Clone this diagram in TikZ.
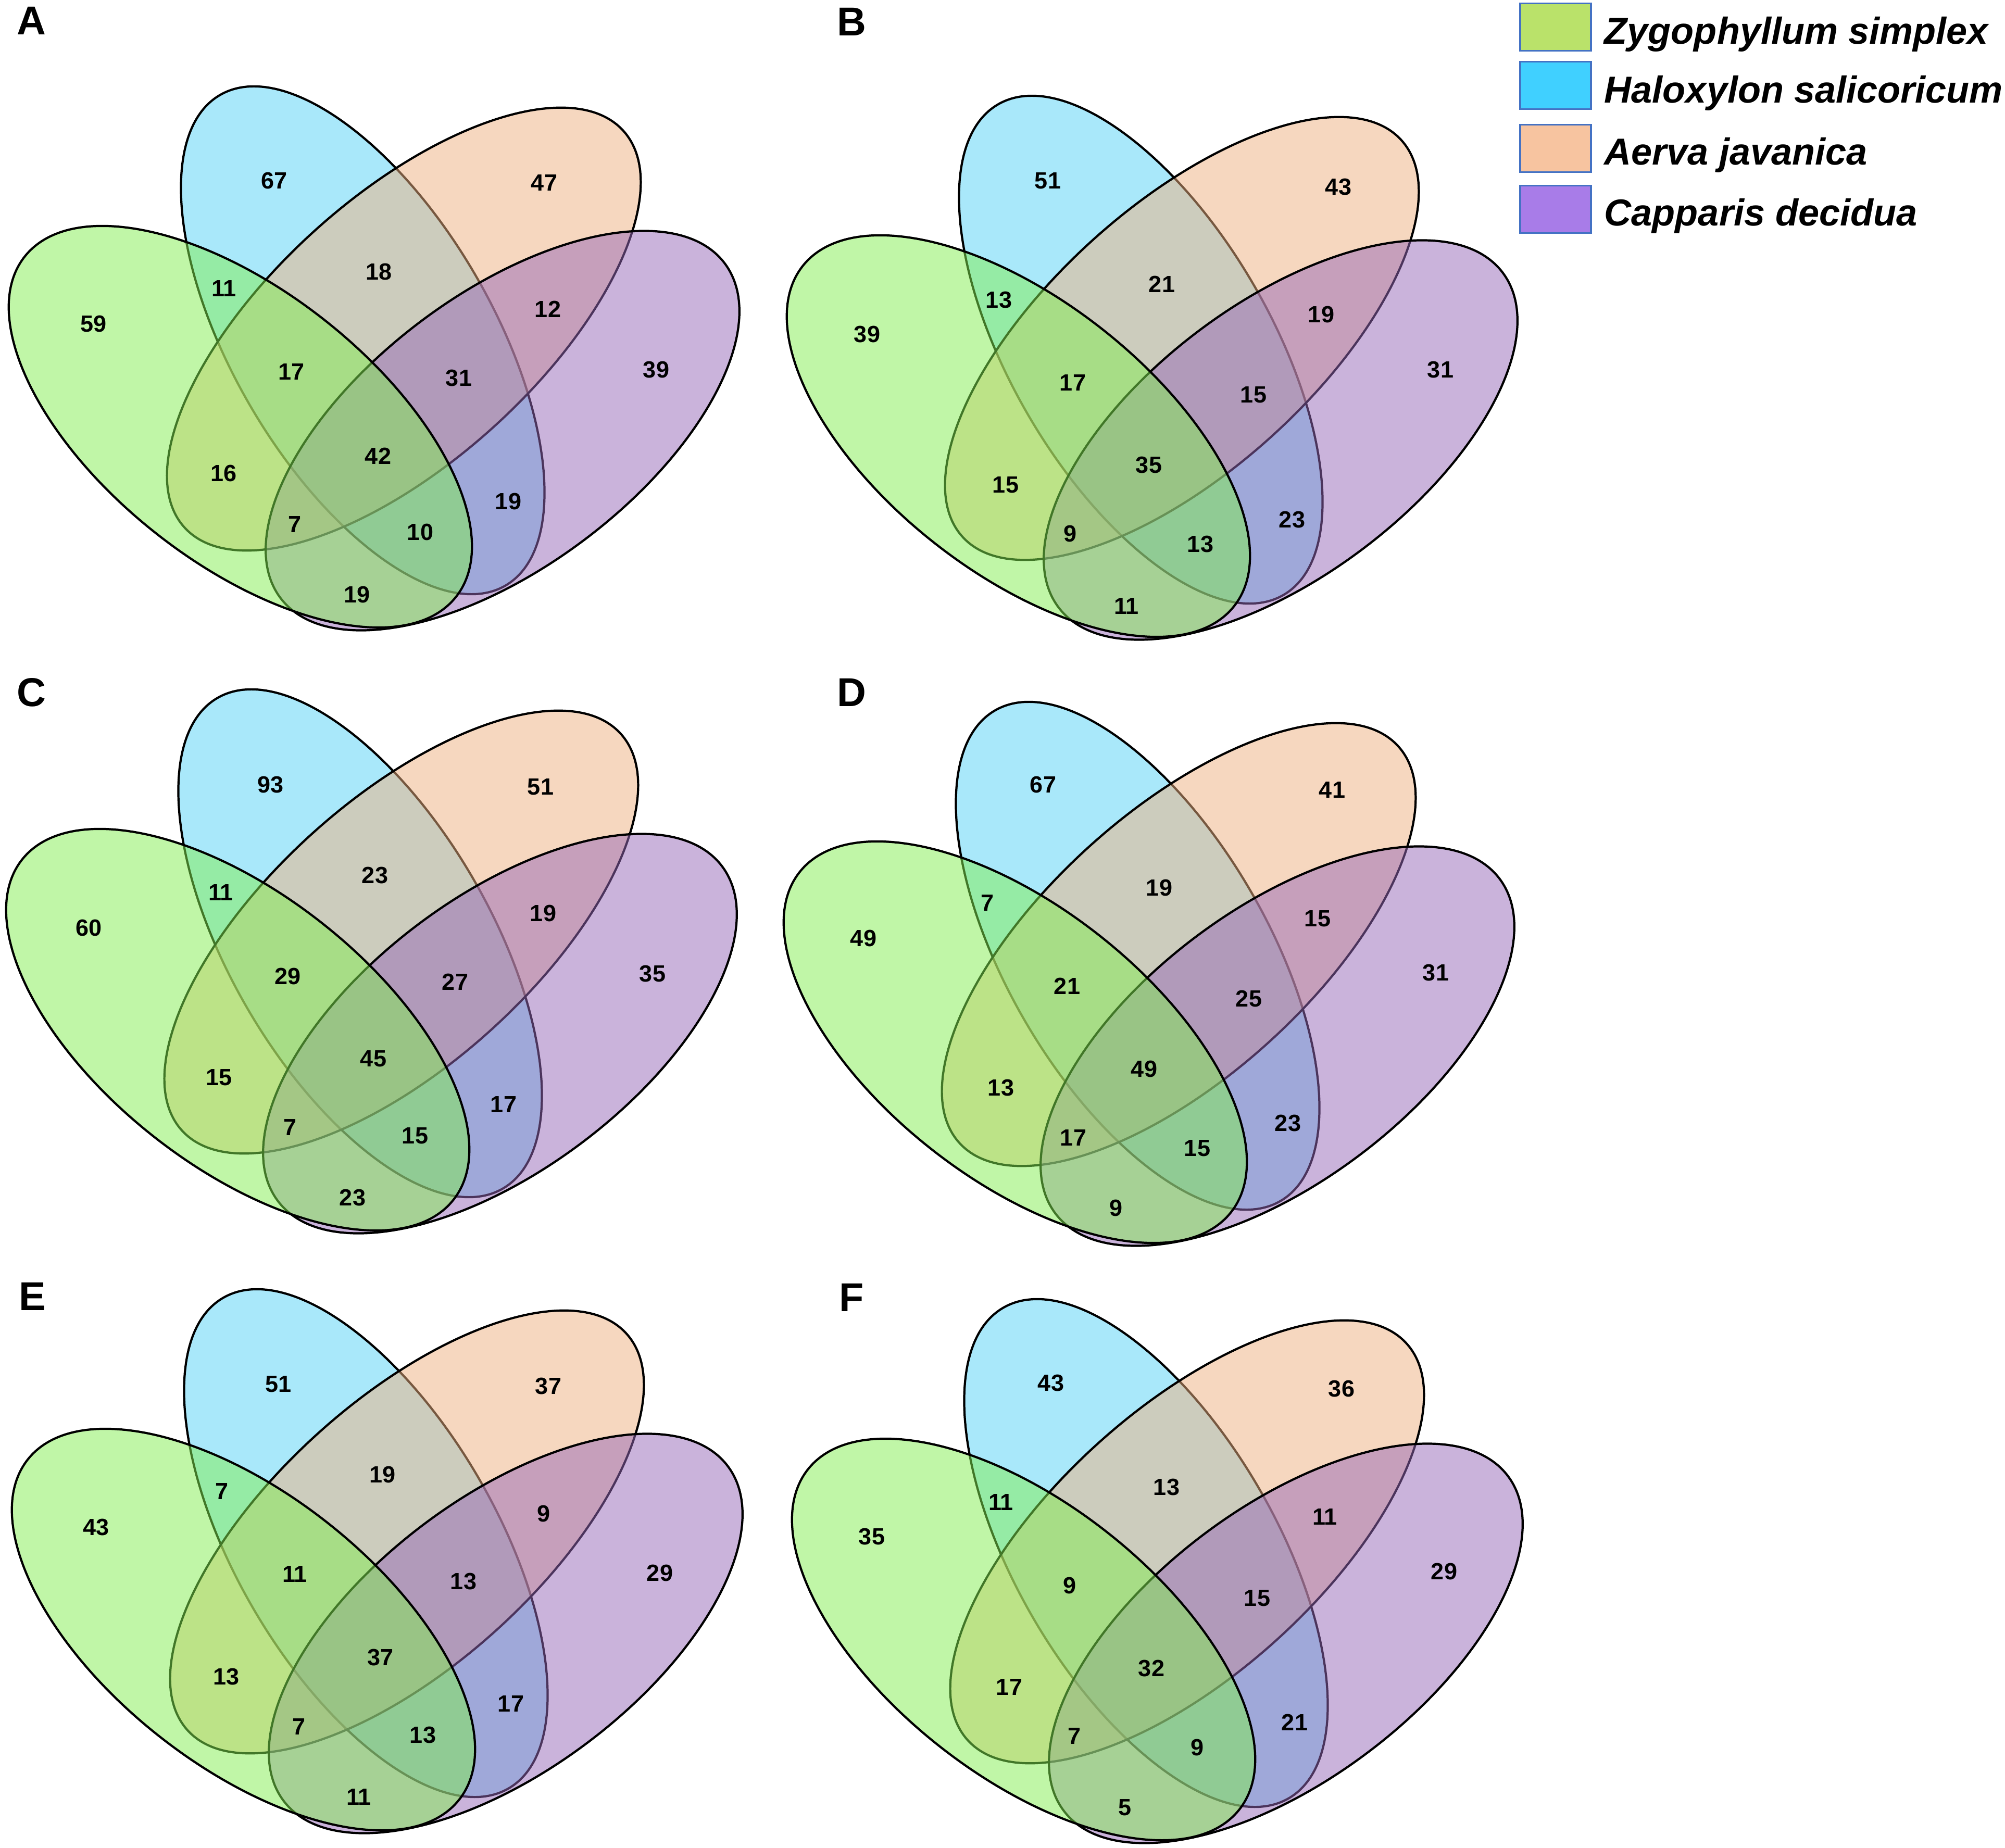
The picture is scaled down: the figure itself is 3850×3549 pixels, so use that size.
\documentclass[tikz,border=0pt]{standalone}
\usepackage{fontspec}
\setmainfont{Liberation Sans}
\definecolor{zfill}{RGB}{131,239,81}
\definecolor{hfill}{RGB}{85,211,247}
\definecolor{afill}{RGB}{239,177,129}
\definecolor{cfill}{RGB}{151,105,185}
\definecolor{zkey}{RGB}{186,226,106}
\definecolor{hkey}{RGB}{64,208,255}
\definecolor{akey}{RGB}{247,196,160}
\definecolor{ckey}{RGB}{168,124,232}
\definecolor{keyedge}{RGB}{68,114,196}
\begin{document}
\begin{tikzpicture}[x=0.01cm, y=-0.01cm,
  vset/.style={draw=black, line width=1.2pt, fill opacity=0.5},
  setZ/.style={vset, fill=zfill},
  setH/.style={vset, fill=hfill},
  setA/.style={vset, fill=afill},
  setC/.style={vset, fill=cfill},
  num/.style={font=\fontsize{12.8}{15}\selectfont\bfseries, inner sep=0pt},
  tag/.style={font=\fontsize{22}{26}\selectfont\bfseries, inner sep=0pt},
  keybox/.style={draw=keyedge, line width=1pt, minimum width=1.36cm,
    minimum height=0.91cm, inner sep=0pt},
  keytext/.style={font=\fontsize{20.5}{24}\selectfont\bfseries\itshape,
    anchor=base west, inner sep=0pt}]

  \fill[white] (0,0) rectangle (3850,3549);
  \useasboundingbox (0,0) rectangle (3850,3549);

  % panel A
  \begin{scope}[shift={(0,0)}]
  \filldraw[setH, shift={(696.5,653.5)}, rotate=-59.8] (0,0) ellipse [x radius=545, y radius=250];
  \filldraw[setA, shift={(775.5,632)}, rotate=42.1] (0,0) ellipse [x radius=568, y radius=255];
  \filldraw[setC, shift={(965,827)}, rotate=37] (0,0) ellipse [x radius=534, y radius=262];
  \filldraw[setZ, shift={(461.5,819.5)}, rotate=-38.25] (0,0) ellipse [x radius=527.5, y radius=261];

  \node[num] (A-h)   at (527,347)  {67};
  \node[num] (A-a)   at (1045,351) {47};
  \node[num] (A-z)   at (180,622)  {59};
  \node[num] (A-c)   at (1260,710) {39};
  \node[num] (A-zh)  at (430,554)  {11};
  \node[num] (A-ha)  at (728,522)  {18};
  \node[num] (A-ac)  at (1052,594) {12};
  \node[num] (A-zha) at (560,714)  {17};
  \node[num] (A-hac) at (881,726)  {31};
  \node[num] (A-all) at (726,876)  {42};
  \node[num] (A-za)  at (430,909)  {16};
  \node[num] (A-hc)  at (976,963)  {19};
  \node[num] (A-zac) at (566,1007) {7};
  \node[num] (A-zhc) at (807,1022) {10};
  \node[num] (A-zc)  at (686,1142) {19};
  \end{scope}

  % panel B
  \begin{scope}[shift={(1494,18)}]
  \filldraw[setH, shift={(696.5,653.5)}, rotate=-59.8] (0,0) ellipse [x radius=545, y radius=250];
  \filldraw[setA, shift={(775.5,632)}, rotate=42.1] (0,0) ellipse [x radius=568, y radius=255];
  \filldraw[setC, shift={(965,827)}, rotate=37] (0,0) ellipse [x radius=534, y radius=262];
  \filldraw[setZ, shift={(461.5,819.5)}, rotate=-38.25] (0,0) ellipse [x radius=527.5, y radius=261];

  \node[num] (B-h)   at (518,329)  {51};
  \node[num] (B-a)   at (1076,341) {43};
  \node[num] (B-z)   at (171,624)  {39};
  \node[num] (B-c)   at (1272,692) {31};
  \node[num] (B-zh)  at (424,558)  {13};
  \node[num] (B-ha)  at (737,528)  {21};
  \node[num] (B-ac)  at (1043,586) {19};
  \node[num] (B-zha) at (566,717)  {17};
  \node[num] (B-hac) at (913,740)  {15};
  \node[num] (B-all) at (712,875)  {35};
  \node[num] (B-za)  at (437,913)  {15};
  \node[num] (B-hc)  at (987,980)  {23};
  \node[num] (B-zac) at (561,1007) {9};
  \node[num] (B-zhc) at (811,1027) {13};
  \node[num] (B-zc)  at (669,1146) {11};
  \end{scope}

  % panel C
  \begin{scope}[shift={(-5,1158)}]
  \filldraw[setH, shift={(696.5,653.5)}, rotate=-59.8] (0,0) ellipse [x radius=545, y radius=250];
  \filldraw[setA, shift={(775.5,632)}, rotate=42.1] (0,0) ellipse [x radius=568, y radius=255];
  \filldraw[setC, shift={(965,827)}, rotate=37] (0,0) ellipse [x radius=534, y radius=262];
  \filldraw[setZ, shift={(461.5,819.5)}, rotate=-38.25] (0,0) ellipse [x radius=527.5, y radius=261];

  \node[num] (C-h)   at (525,349)  {93};
  \node[num] (C-a)   at (1043,353) {51};
  \node[num] (C-z)   at (176,624)  {60};
  \node[num] (C-c)   at (1258,712) {35};
  \node[num] (C-zh)  at (429,556)  {11};
  \node[num] (C-ha)  at (725,523)  {23};
  \node[num] (C-ac)  at (1048,596) {19};
  \node[num] (C-zha) at (558,717)  {29};
  \node[num] (C-hac) at (879,728)  {27};
  \node[num] (C-all) at (722,875)  {45};
  \node[num] (C-za)  at (426,911)  {15};
  \node[num] (C-hc)  at (972,963)  {17};
  \node[num] (C-zac) at (562,1007) {7};
  \node[num] (C-zhc) at (802,1023) {15};
  \node[num] (C-zc)  at (682,1142) {23};
  \end{scope}

  % panel D
  \begin{scope}[shift={(1488,1182)}]
  \filldraw[setH, shift={(696.5,653.5)}, rotate=-59.8] (0,0) ellipse [x radius=545, y radius=250];
  \filldraw[setA, shift={(775.5,632)}, rotate=42.1] (0,0) ellipse [x radius=568, y radius=255];
  \filldraw[setC, shift={(965,827)}, rotate=37] (0,0) ellipse [x radius=534, y radius=262];
  \filldraw[setZ, shift={(461.5,819.5)}, rotate=-38.25] (0,0) ellipse [x radius=527.5, y radius=261];

  \node[num] (D-h)   at (515,325)  {67};
  \node[num] (D-a)   at (1070,335) {41};
  \node[num] (D-z)   at (170,620)  {49};
  \node[num] (D-c)   at (1269,686) {31};
  \node[num] (D-zh)  at (408,552)  {7};
  \node[num] (D-ha)  at (738,523)  {19};
  \node[num] (D-ac)  at (1042,582) {15};
  \node[num] (D-zha) at (561,712)  {21};
  \node[num] (D-hac) at (910,736)  {25};
  \node[num] (D-all) at (709,871)  {49};
  \node[num] (D-za)  at (434,907)  {13};
  \node[num] (D-hc)  at (985,975)  {23};
  \node[num] (D-zac) at (573,1003) {17};
  \node[num] (D-zhc) at (811,1023) {15};
  \node[num] (D-zc)  at (655,1138) {9};
  \end{scope}

  % panel E
  \begin{scope}[shift={(6,2310)}]
  \filldraw[setH, shift={(696.5,653.5)}, rotate=-59.8] (0,0) ellipse [x radius=545, y radius=250];
  \filldraw[setA, shift={(775.5,632)}, rotate=42.1] (0,0) ellipse [x radius=568, y radius=255];
  \filldraw[setC, shift={(965,827)}, rotate=37] (0,0) ellipse [x radius=534, y radius=262];
  \filldraw[setZ, shift={(461.5,819.5)}, rotate=-38.25] (0,0) ellipse [x radius=527.5, y radius=261];

  \node[num] (E-h)   at (529,348)  {51};
  \node[num] (E-a)   at (1047,352) {37};
  \node[num] (E-z)   at (179,623)  {43};
  \node[num] (E-c)   at (1261,711) {29};
  \node[num] (E-zh)  at (420,554)  {7};
  \node[num] (E-ha)  at (729,522)  {19};
  \node[num] (E-ac)  at (1038,597) {9};
  \node[num] (E-zha) at (560,713)  {11};
  \node[num] (E-hac) at (884,727)  {13};
  \node[num] (E-all) at (725,873)  {37};
  \node[num] (E-za)  at (429,910)  {13};
  \node[num] (E-hc)  at (975,962)  {17};
  \node[num] (E-zac) at (568,1006) {7};
  \node[num] (E-zhc) at (806,1022) {13};
  \node[num] (E-zc)  at (683,1141) {11};
  \end{scope}

  % panel F
  \begin{scope}[shift={(1504,2329)}]
  \filldraw[setH, shift={(696.5,653.5)}, rotate=-59.8] (0,0) ellipse [x radius=545, y radius=250];
  \filldraw[setA, shift={(775.5,632)}, rotate=42.1] (0,0) ellipse [x radius=568, y radius=255];
  \filldraw[setC, shift={(965,827)}, rotate=37] (0,0) ellipse [x radius=534, y radius=262];
  \filldraw[setZ, shift={(461.5,819.5)}, rotate=-38.25] (0,0) ellipse [x radius=527.5, y radius=261];

  \node[num] (F-h)   at (514,327)  {43};
  \node[num] (F-a)   at (1072,338) {36};
  \node[num] (F-z)   at (170,622)  {35};
  \node[num] (F-c)   at (1269,689) {29};
  \node[num] (F-zh)  at (418,556)  {11};
  \node[num] (F-ha)  at (736,527)  {13};
  \node[num] (F-ac)  at (1040,584) {11};
  \node[num] (F-zha) at (550,716)  {9};
  \node[num] (F-hac) at (910,740)  {15};
  \node[num] (F-all) at (707,875)  {32};
  \node[num] (F-za)  at (434,911)  {17};
  \node[num] (F-hc)  at (982,979)  {21};
  \node[num] (F-zac) at (559,1005) {7};
  \node[num] (F-zhc) at (795,1027) {9};
  \node[num] (F-zc)  at (656,1142) {5};
  \end{scope}

  % panel letters
  \node[tag] (tagA) at (60,40)     {A};
  \node[tag] (tagB) at (1635,42)   {B};
  \node[tag] (tagC) at (60,1330)   {C};
  \node[tag] (tagD) at (1635,1330) {D};
  \node[tag] (tagE) at (62,2490)   {E};
  \node[tag] (tagF) at (1635,2492) {F};

  % legend
  \node[keybox, fill=zkey] (keyZ) at (2987,52)  {};
  \node[keybox, fill=hkey] (keyH) at (2987,164) {};
  \node[keybox, fill=akey] (keyA) at (2987,285) {};
  \node[keybox, fill=ckey] (keyC) at (2987,402) {};
  \node[keytext] (txtZ) at (3080,85)  {Zygophyllum simplex};
  \node[keytext] (txtH) at (3080,198) {Haloxylon salicoricum};
  \node[keytext] (txtA) at (3080,317) {Aerva javanica};
  \node[keytext] (txtC) at (3080,434) {Capparis decidua};
\end{tikzpicture}
\end{document}
